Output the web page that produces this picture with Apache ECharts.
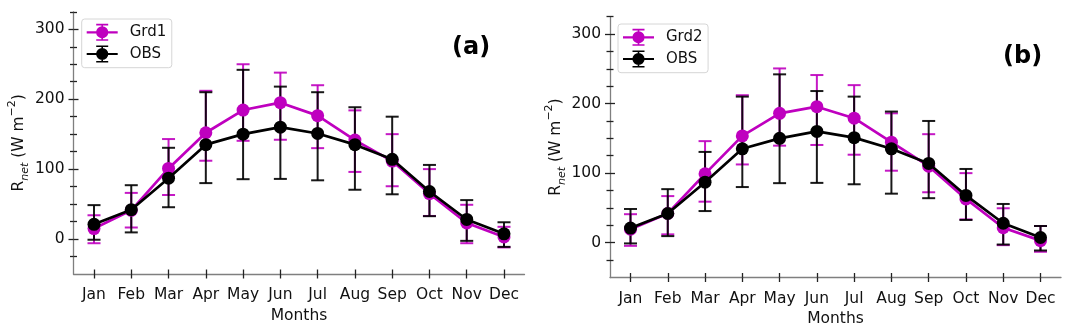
<!DOCTYPE html>
<html>
<head>
<meta charset="utf-8">
<script src="https://cdn.jsdelivr.net/npm/echarts@6/dist/echarts.min.js"></script>
<style>
  html, body { margin: 0; padding: 0; background: #fff; }
  #chart { width: 1073px; height: 336px; }
</style>
</head>
<body>
<div id="chart"></div>
<script>
// ---------------- data ----------------
const months = ['Jan', 'Feb', 'Mar', 'Apr', 'May', 'Jun', 'Jul', 'Aug', 'Sep', 'Oct', 'Nov', 'Dec'];

const obsMean = [21, 42, 87, 135, 150, 160, 151, 135, 114, 68, 28, 7.5];
const obsLo   = [-1, 9.5, 45.5, 80, 85.6, 86, 84, 70.5, 64, 32.7, -2.6, -11.2];
const obsHi   = [48.5, 77, 130.5, 210, 242, 218, 210, 188.5, 175, 106, 55.7, 24];

const grd1Mean = [15, 41, 101, 152, 184.5, 195, 176.5, 141.5, 111.5, 65, 23, 3];
const grd1Lo   = [-6, 16.5, 63, 112, 140.5, 142, 130, 96, 75.5, 33, -6, -12];
const grd1Hi   = [34, 66, 143, 212, 250, 238, 220, 184, 150, 100, 49, 17.5];

const grd2Mean = [19.5, 42, 99, 153.5, 186, 195.5, 179, 144.5, 110, 63, 21.5, 3];
const grd2Lo   = [-4.5, 12, 59, 112.5, 139.5, 140.5, 126.5, 103.5, 72.5, 33.5, -3.5, -13];
const grd2Hi   = [41, 67, 146, 212, 250.5, 241, 226.5, 186, 156, 100, 49.5, 24];

const yMajorTicks = [0, 100, 200, 300];
const yMinorTicks = [-25, 25, 50, 75, 125, 150, 175, 225, 250, 275, 325];

// ---------------- helpers ----------------
const FONT = 'DejaVu Sans';
const MAGENTA = '#bf00bf';
const BLACK = '#000000';
const monthPos = months.map((m, i) => i + 1);

const lineData = (vals) => vals.map((v, i) => [i + 1, v]);
const errData = (lo, hi) => lo.map((v, i) => [i + 1, v, hi[i]]);

function errRender(color) {
  return function (params, api) {
    const x = api.value(0), lo = api.value(1), hi = api.value(2);
    const pLo = api.coord([x, lo]);
    const pHi = api.coord([x, hi]);
    const cw = 6.5;
    const style = { stroke: color, lineWidth: 2, opacity: 0.9 };
    return {
      type: 'group',
      children: [
        { type: 'line', shape: { x1: pLo[0], y1: pLo[1], x2: pHi[0], y2: pHi[1] }, style: style },
        { type: 'line', shape: { x1: pLo[0] - cw, y1: pLo[1], x2: pLo[0] + cw, y2: pLo[1] }, style: style },
        { type: 'line', shape: { x1: pHi[0] - cw, y1: pHi[1], x2: pHi[0] + cw, y2: pHi[1] }, style: style }
      ]
    };
  };
}

const AXIS_COLOR = '#7f7f7f';
const TICK_COLOR = '#222';

function xAxes(g, nameGap) {
  const base = { gridIndex: g, type: 'value', min: 0.45, max: 12.55, position: 'bottom', splitLine: { show: false } };
  return [
    Object.assign({}, base, {
      axisLine: { onZero: false, lineStyle: { color: AXIS_COLOR, width: 1.3 } },
      axisTick: { customValues: monthPos, length: 4.5, inside: false, lineStyle: { color: TICK_COLOR, width: 1.3 } },
      axisLabel: { customValues: monthPos, formatter: (v) => months[Math.round(v) - 1], margin: 13,
                   fontSize: 15.5, color: '#111', fontFamily: FONT },
      name: 'Months', nameLocation: 'middle', nameGap: nameGap,
      nameTextStyle: { fontSize: 15.5, color: '#111', fontFamily: FONT }
    }),
    Object.assign({}, base, {
      axisLine: { show: false, onZero: false },
      axisTick: { customValues: monthPos, length: 4.5, inside: true, lineStyle: { color: TICK_COLOR, width: 1.3 } },
      axisLabel: { show: false }
    })
  ];
}

function yAxes(g, nameGap) {
  const base = { gridIndex: g, type: 'value', min: -50, max: 325, position: 'left', splitLine: { show: false } };
  const tick = (vals, len, inside) => ({ customValues: vals, length: len, inside: inside, lineStyle: { color: TICK_COLOR, width: 1.3 } });
  return [
    Object.assign({}, base, {
      axisLine: { show: true, onZero: false, lineStyle: { color: AXIS_COLOR, width: 1.3 } },
      axisTick: tick(yMajorTicks, 5, false),
      axisLabel: { customValues: yMajorTicks, margin: 9, fontSize: 15.5, color: '#111', fontFamily: FONT },
      name: '{r|R}{sub|net}{r| (W m}{sup|\u22122}{r|)}',
      nameLocation: 'middle', nameGap: nameGap, nameRotate: 90,
      nameTextStyle: {
        fontFamily: FONT, color: '#111',
        rich: {
          r: { fontSize: 15.5, lineHeight: 24, fontFamily: FONT, color: '#111' },
          sub: { fontSize: 11, lineHeight: 14, verticalAlign: 'bottom', fontStyle: 'italic', fontFamily: FONT, color: '#111' },
          sup: { fontSize: 11, lineHeight: 14, verticalAlign: 'top', fontFamily: FONT, color: '#111' }
        }
      }
    }),
    Object.assign({}, base, { axisLine: { show: false, onZero: false }, axisTick: tick(yMajorTicks, 5, true), axisLabel: { show: false } }),
    Object.assign({}, base, { axisLine: { show: false, onZero: false }, axisTick: tick(yMinorTicks, 3.5, false), axisLabel: { show: false } }),
    Object.assign({}, base, { axisLine: { show: false, onZero: false }, axisTick: tick(yMinorTicks, 3.5, true), axisLabel: { show: false } })
  ];
}

// legend icon: line + marker + error bar with caps (31 x 17 box)
const LEGEND_ICON = 'path://M0 7.4H31V9.6H0Z M14.7 0.8H16.3V16.2H14.7Z M9.5 0H21.5V1.6H9.5Z M9.5 15.4H21.5V17H9.5Z M21.6 8.5A6.1 6.1 0 1 1 9.4 8.5A6.1 6.1 0 1 1 21.6 8.5Z';

function legend(left, top, names) {
  return {
    left: left, top: top, orient: 'vertical',
    data: names.map(n => ({ name: n, icon: LEGEND_ICON })),
    itemWidth: 31, itemHeight: 17, itemGap: 4.7,
    padding: [4.8, 5.5, 5.2, 5],
    borderColor: '#d6d6d6', borderWidth: 1, borderRadius: 3,
    backgroundColor: 'rgba(255,255,255,0.8)',
    selectedMode: false,
    textStyle: { fontSize: 15, fontFamily: FONT, color: '#111', padding: [0, 0, 0, 7] }
  };
}

function panelSeries(g, modelName, color, mean, lo, hi) {
  const xi = 2 * g, yi = 4 * g;
  return [
    { type: 'custom', name: modelName + ' err', xAxisIndex: xi, yAxisIndex: yi, z: 2,
      renderItem: errRender(color), data: errData(lo, hi), encode: { x: 0, y: [1, 2] }, silent: true },
    { type: 'custom', name: 'OBS err', xAxisIndex: xi, yAxisIndex: yi, z: 3,
      renderItem: errRender(BLACK), data: errData(obsLo, obsHi), encode: { x: 0, y: [1, 2] }, silent: true },
    { type: 'line', name: modelName, xAxisIndex: xi, yAxisIndex: yi, z: 4,
      data: lineData(mean), symbol: 'circle', symbolSize: 13,
      lineStyle: { color: color, width: 2.7 }, itemStyle: { color: color }, silent: true },
    { type: 'line', name: 'OBS', xAxisIndex: xi, yAxisIndex: yi, z: 5,
      data: lineData(obsMean), symbol: 'circle', symbolSize: 13,
      lineStyle: { color: BLACK, width: 2.7 }, itemStyle: { color: BLACK }, silent: true }
  ];
}

const chart = echarts.init(document.getElementById('chart'), null, { renderer: 'canvas' });
chart.setOption({
  animation: false,
  backgroundColor: '#ffffff',
  title: [
    { text: '(a)', left: 452, top: 36, padding: 0, textStyle: { fontSize: 24, fontWeight: 'bold', fontFamily: FONT, color: '#000' } },
    { text: '(b)', left: 1003, top: 45, padding: 0, textStyle: { fontSize: 24, fontWeight: 'bold', fontFamily: FONT, color: '#000' } }
  ],
  legend: [
    legend(81.7, 19, ['Grd1', 'OBS']),
    legend(618, 24, ['Grd2', 'OBS'])
  ],
  grid: [
    { left: 73.5, top: 11.8, width: 451, height: 262.2, containLabel: false },
    { left: 610, top: 16.6, width: 451, height: 260.9, containLabel: false }
  ],
  xAxis: [].concat(xAxes(0, 31), xAxes(1, 32.5)),
  yAxis: [].concat(yAxes(0, 40.5), yAxes(1, 39.5)),
  series: [].concat(
    panelSeries(0, 'Grd1', MAGENTA, grd1Mean, grd1Lo, grd1Hi),
    panelSeries(1, 'Grd2', MAGENTA, grd2Mean, grd2Lo, grd2Hi)
  )
});
</script>
</body>
</html>
